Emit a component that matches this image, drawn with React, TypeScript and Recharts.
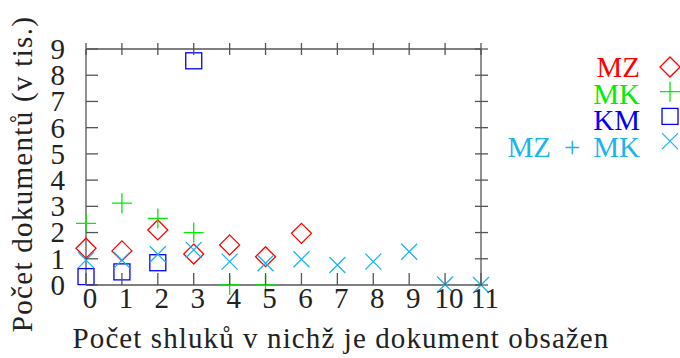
import { ScatterChart, Scatter, XAxis, YAxis, ReferenceLine, Legend } from 'recharts';

// cluster counts on the x axis
const clusters = [0, 1, 2, 3, 4, 5, 6, 7, 8, 9, 10, 11];
const yTicks = [0, 1, 2, 3, 4, 5, 6, 7, 8, 9];

// documents (thousands), null = no point
const mzValues = [1.4, 1.3, 2.1, 1.18, 1.53, 1.08, 1.97, null, null, null, null, null];
const mkValues = [2.35, 3.12, 2.54, 2.0, 0, 0, null, null, null, null, null, null];
const kmValues = [0.32, 0.5, 0.85, 8.55, null, null, null, null, null, null, null, null];
const mzmkValues = [0.95, 0.95, 1.17, 1.34, 0.89, 0.83, 0.98, 0.76, 0.89, 1.27, 0.02, 0];

const seriesNames = ['MZ', 'MK', 'KM', 'MZ + MK'];

const colors = {
  axis: '#555555',
  mz: '#ff0000',
  mk: '#00ee00',
  km: '#0000ff',
  mzmk: '#1cb4ee',
  text: '#222222',
};

const FONT = "'Liberation Serif', 'DejaVu Serif', serif";
const FS = 29;

// plot frame in page pixels
const LEFT = 86;
const TOP = 49;
const RIGHT = 481;
const BOTTOM = 285;

const toPoints = (vals: (number | null)[]) =>
  clusters
    .map((c, i) => ({ x: c, y: vals[i] }))
    .filter((p) => p.y !== null);

const Diamond = ({ cx, cy, color }: any) => (
  <path d={`M${cx},${cy - 10}L${cx + 10},${cy}L${cx},${cy + 10}L${cx - 10},${cy}Z`} fill="none" stroke={color} strokeWidth={1.3} />
);
const Plus = ({ cx, cy, color }: any) => (
  <path d={`M${cx - 10},${cy}H${cx + 10}M${cx},${cy - 10}V${cy + 10}`} fill="none" stroke={color} strokeWidth={1.3} />
);
const Square = ({ cx, cy, color }: any) => (
  <rect x={cx - 8} y={cy - 8} width={16} height={16} fill="none" stroke={color} strokeWidth={1.3} />
);
const Cross = ({ cx, cy, color }: any) => (
  <path d={`M${cx - 8},${cy - 8}L${cx + 8},${cy + 8}M${cx - 8},${cy + 8}L${cx + 8},${cy - 8}`} fill="none" stroke={color} strokeWidth={1.3} />
);

const markers = [
  { C: Diamond, color: colors.mz },
  { C: Plus, color: colors.mk },
  { C: Square, color: colors.km },
  { C: Cross, color: colors.mzmk },
];

const textStyle = { fontFamily: FONT, fontSize: FS };

function XTick({ x, payload }: any) {
  return (
    <g>
      <line x1={x} x2={x} y1={BOTTOM} y2={BOTTOM - 12} stroke={colors.axis} strokeWidth={1.3} />
      <line x1={x} x2={x} y1={TOP - 6} y2={TOP + 6} stroke={colors.axis} strokeWidth={1.3} />
      <text x={x + 4} y={BOTTOM + 23} textAnchor="middle" fill={colors.text} style={textStyle}>
        {payload.value}
      </text>
    </g>
  );
}

function YTick({ y, payload }: any) {
  return (
    <g>
      <line x1={LEFT} x2={LEFT + 12} y1={y} y2={y} stroke={colors.axis} strokeWidth={1.3} />
      <line x1={RIGHT - 6} x2={RIGHT + 7} y1={y} y2={y} stroke={colors.axis} strokeWidth={1.3} />
      <text x={LEFT - 21} y={y} dy="0.34em" textAnchor="end" fill={colors.text} style={textStyle}>
        {payload.value}
      </text>
    </g>
  );
}

function LegendBox() {
  return (
    <svg width={180} height={130} style={{ display: 'block' }}>
      {seriesNames.map((name, i) => {
        const m = markers[i];
        const rowY = 27 + i * 26.7;
        const parts = name.split(' + ');
        return (
          <g key={name}>
            <text x={140} y={rowY} dy="0.34em" textAnchor="end" fill={m.color} style={textStyle}>
              {parts.length > 1 ? (
                <>
                  <tspan>{parts[0]}</tspan>
                  <tspan dx={13}>+</tspan>
                  <tspan dx={13}>{parts[1]}</tspan>
                </>
              ) : (
                name
              )}
            </text>
            <m.C cx={170} cy={rowY - i * 2} color={m.color} />
          </g>
        );
      })}
    </svg>
  );
}

export default function App() {
  return (
    <div style={{ position: 'absolute', left: 0, top: 0, width: 680, height: 358, background: '#fff', fontFamily: FONT }}>
      <ScatterChart
        width={680}
        height={358}
        margin={{ top: TOP, right: 680 - RIGHT, bottom: 358 - BOTTOM - 1, left: LEFT - 1 }}
      >
        <XAxis
          type="number"
          dataKey="x"
          domain={[0, 11]}
          ticks={clusters}
          height={1}
          tickLine={false}
          tick={<XTick />}
          axisLine={{ stroke: colors.axis, strokeWidth: 1.3 }}
          label={{
            value: 'Počet shluků v nichž je dokument obsažen',
            content: () => (
              <text x={341} y={348} textAnchor="middle" fill={colors.text} style={{ ...textStyle, letterSpacing: 1.1 }}>
                Počet shluků v nichž je dokument obsažen
              </text>
            ),
          }}
        />
        <YAxis
          type="number"
          dataKey="y"
          domain={[0, 9]}
          ticks={yTicks}
          width={1}
          tickLine={false}
          tick={<YTick />}
          axisLine={{ stroke: colors.axis, strokeWidth: 1.3 }}
          label={{
            value: 'Počet dokumentů (v tis.)',
            content: () => (
              <text x={32} y={174} transform="rotate(-90, 32, 174)" textAnchor="middle" fill={colors.text} style={{ ...textStyle, letterSpacing: 1.3 }}>
                Počet dokumentů (v tis.)
              </text>
            ),
          }}
        />
        <ReferenceLine y={9} stroke={colors.axis} strokeWidth={1.3} />
        <ReferenceLine x={11} stroke={colors.axis} strokeWidth={1.3} />
        <Legend
          layout="vertical"
          align="center"
          verticalAlign="middle"
          content={() => <LegendBox />}
          wrapperStyle={{ position: 'absolute', left: 500, top: 40, width: 180, height: 130 }}
        />
        <Scatter name="MZ" data={toPoints(mzValues)} isAnimationActive={false} shape={(p: any) => <Diamond cx={p.cx} cy={p.cy} color={colors.mz} />} />
        <Scatter name="MK" data={toPoints(mkValues)} isAnimationActive={false} shape={(p: any) => <Plus cx={p.cx} cy={p.cy} color={colors.mk} />} />
        <Scatter name="KM" data={toPoints(kmValues)} isAnimationActive={false} shape={(p: any) => <Square cx={p.cx} cy={p.cy} color={colors.km} />} />
        <Scatter name="MZ + MK" data={toPoints(mzmkValues)} isAnimationActive={false} shape={(p: any) => <Cross cx={p.cx} cy={p.cy} color={colors.mzmk} />} />
      </ScatterChart>
    </div>
  );
}
